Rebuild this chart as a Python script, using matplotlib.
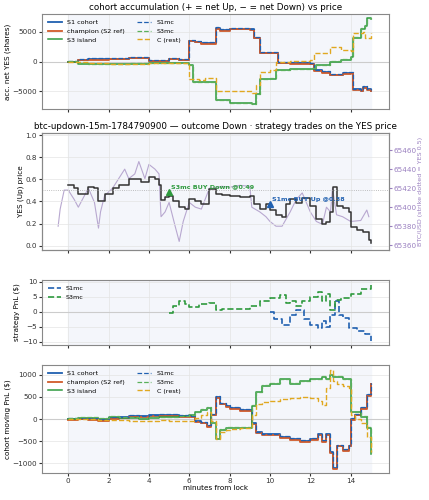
import matplotlib
matplotlib.use("Agg")
import matplotlib.pyplot as plt
import numpy as np

# ---- panel 1: accumulation
t_s1 = [0, 0.5, 1, 2, 3, 4, 4.3, 5, 5.5, 6.0, 6.3, 6.6, 7.3, 7.5, 8.0, 9.0, 9.2, 9.5, 10.3, 10.4, 11, 12, 12.2, 12.6, 13.0, 13.6, 14.0, 14.1, 14.5, 14.6, 14.8, 15]
v_s1 = [0, 300, 400, 500, 600, 150, 100, 450, 250, 3500, 3300, 3100, 5600, 5300, 5500, 5400, 4000, 1500, 1500, -200, -300, -400, -1500, -1800, -2200, -2000, -1900, -4700, -4900, -4300, -4700, -4900]
t_s3 = [0, 0.5, 1, 2, 3, 4, 5, 6.0, 6.2, 7.3, 8.0, 9.1, 9.3, 9.5, 10.0, 10.3, 11, 12, 12.3, 13, 13.5, 14, 14.1, 14.5, 14.7, 14.8, 15]
v_s3 = [0, -400, -500, -450, -350, -250, -300, -600, -3500, -6500, -7000, -7200, -5500, -3000, -2900, -1500, -1300, -1200, -600, 0, 300, 700, 4000, 5500, 6000, 7300, 7100]
t_c = [0, 1, 2, 3, 4, 5, 6.0, 6.5, 6.8, 7.3, 9.1, 9.3, 9.5, 10.0, 10.3, 11, 12, 12.2, 13, 13.5, 14, 14.1, 14.6, 14.7, 15]
v_c = [0, -300, -400, -500, -300, -200, -3000, -3100, -2800, -5000, -5300, -4000, -1800, -1500, 0, 100, 200, 1500, 2500, 2000, 1800, 4800, 5000, 4000, 4800]

# ---- panel 2: YES price and BTC
t_yes = [0, 0.3, 0.5, 0.8, 1.0, 1.3, 1.5, 1.8, 2.2, 2.5, 3.0, 3.3, 3.6, 4.0, 4.3, 4.5, 4.6, 4.8, 5.0, 5.2, 5.5, 5.8, 6.0, 6.3, 6.6, 7.0, 7.3, 7.6, 8.0, 8.5, 9.0, 9.2, 9.5, 9.8, 10.0, 10.3, 10.6, 10.8, 11.0, 11.3, 11.6, 12.0, 12.3, 12.6, 12.8, 13.0, 13.1, 13.3, 13.6, 13.9, 14.0, 14.3, 14.6, 14.9, 15.0]
v_yes = [0.55, 0.52, 0.47, 0.47, 0.53, 0.52, 0.40, 0.47, 0.52, 0.55, 0.60, 0.60, 0.58, 0.62, 0.60, 0.55, 0.41, 0.44, 0.45, 0.40, 0.35, 0.33, 0.42, 0.40, 0.38, 0.51, 0.47, 0.46, 0.45, 0.44, 0.45, 0.38, 0.33, 0.38, 0.32, 0.28, 0.26, 0.38, 0.42, 0.39, 0.43, 0.36, 0.24, 0.20, 0.21, 0.30, 0.53, 0.36, 0.34, 0.30, 0.17, 0.14, 0.12, 0.05, 0.02]
t_btc = [-0.5, -0.4, -0.2, 0, 0.3, 0.5, 0.8, 1.0, 1.3, 1.5, 1.6, 1.8, 2.2, 2.5, 2.8, 3.0, 3.3, 3.5, 3.8, 4.0, 4.3, 4.5, 4.6, 4.8, 5.0, 5.3, 5.5, 5.7, 6.0, 6.3, 6.6, 7.0, 7.3, 7.6, 8.0, 8.5, 9.0, 9.1, 9.5, 9.8, 10.0, 10.3, 10.6, 11.0, 11.3, 11.6, 12.0, 12.3, 12.6, 12.8, 13.0, 13.1, 13.3, 13.6, 14.0, 14.5, 14.8, 14.9]
v_btc = [65380, 65398, 65418, 65418, 65408, 65400, 65412, 65420, 65405, 65378, 65395, 65412, 65420, 65430, 65440, 65430, 65435, 65448, 65430, 65445, 65440, 65435, 65390, 65395, 65405, 65380, 65364, 65385, 65405, 65400, 65398, 65420, 65420, 65422, 65421, 65423, 65422, 65400, 65395, 65390, 65385, 65380, 65380, 65395, 65408, 65415, 65395, 65385, 65382, 65400, 65395, 65420, 65392, 65390, 65385, 65386, 65397, 65390]

# ---- panel 3: strategy PnL
t_s1mc = [10.0, 10.2, 10.6, 11.0, 11.3, 11.7, 12.0, 12.4, 12.6, 12.8, 13.0, 13.2, 13.4, 13.6, 13.9, 14.3, 14.7, 15.0]
v_s1mc = [0.0, -2.5, -4.5, -1.0, 0.5, -2.5, -4.5, -5.5, -3.0, -5.0, -1.0, 3.5, -1.0, -2.0, -5.5, -6.5, -7.5, -9.8]
t_s3mc = [5.0, 5.2, 5.5, 5.8, 6.0, 6.5, 7.0, 7.3, 7.6, 8.5, 9.0, 9.5, 10.0, 10.5, 10.8, 11.0, 11.3, 11.6, 12.0, 12.4, 12.6, 12.8, 13.0, 13.2, 13.5, 14.0, 14.5, 15.0]
v_s3mc = [-0.5, 2.0, 3.5, 2.5, 1.5, 2.5, 3.0, 0.5, 1.0, 1.0, 2.0, 3.5, 4.5, 5.5, 3.0, 3.5, 2.0, 3.5, 5.0, 6.5, 3.5, 6.0, 0.5, 4.0, 4.5, 6.0, 7.5, 9.0]

# ---- panel 4: cohort moving PnL
t_p = [0, 0.5, 1, 1.5, 2, 2.5, 3, 3.5, 4, 4.5, 5, 5.5, 6, 6.3, 6.6, 6.9, 7.1, 7.3, 7.5, 7.8, 8.0, 8.5, 9.0, 9.1, 9.3, 9.6, 10.0, 10.5, 11.0, 11.5, 12.0, 12.4, 12.6, 12.8, 13.0, 13.1, 13.3, 13.6, 13.9, 14.0, 14.2, 14.5, 14.8, 15.0]
p_s1 = [0, 10, 5, -20, 20, 40, 70, 60, 80, 90, 90, 70, 60, -50, -80, -150, 100, 500, 350, 300, 250, 200, 200, -100, -300, -350, -350, -400, -450, -500, -450, -350, -500, -350, -750, -1100, -600, -700, -600, 0, 100, 250, 550, 800]
p_s3 = [0, 20, 30, 10, 50, 30, 20, 10, 20, 40, 40, 60, 80, 150, 200, 250, -100, -450, -250, -200, -200, -200, -200, 300, 600, 750, 800, 900, 800, 850, 900, 900, 950, 900, 1000, 950, 950, 900, 900, 150, 150, 50, -200, -800]
p_c = [0, 10, 0, -30, -20, -30, -40, -40, -40, -30, -50, -40, -50, 20, 100, 150, -50, -450, -300, -250, -220, -200, -200, 100, 350, 380, 400, 450, 480, 500, 480, 400, 320, 700, 1100, 850, 800, 750, 700, 100, 0, -100, -400, -750]

blue, orange, green, gold = "#2060b0", "#d05a2a", "#2e9a3e", "#e0a820"
bg = "#f4f6fb"
fs = 5.2
plt.rcParams.update({"font.size": fs, "axes.titlesize": 6.3, "xtick.labelsize": fs,
                     "ytick.labelsize": fs, "axes.labelsize": fs, "legend.fontsize": 4.6})

fig = plt.figure(figsize=(4.29, 5.0), dpi=100)
L, W = 42/429, 347/429
ax1 = fig.add_axes([L, 1-109/500, W, 95/500])
ax2 = fig.add_axes([L, 1-250/500, W, 117/500], sharex=ax1)
ax3 = fig.add_axes([L, 1-345/500, W, 65/500], sharex=ax1)
ax4 = fig.add_axes([L, 1-473/500, W, 108/500], sharex=ax1)
axb = ax2.twinx()

for ax in (ax1, axb, ax3, ax4):
    ax.axvspan(0, 15, color=bg, zorder=0)
for ax in (ax1, ax2, ax3, ax4):
    ax.grid(True, color="#e4e4e4", lw=0.5)
    for s in ax.spines.values():
        s.set_color("#888888")
    ax.tick_params(length=2, pad=1.5, colors="#333333")
ax1.set_xlim(-1.3, 15.9)

def st(ax, x, y, **kw):
    ax.plot(x, y, drawstyle="steps-post", **kw)

# panel 1
ax1.axhline(0, color="#cccccc", lw=0.8)
st(ax1, t_s1, v_s1, color=blue, lw=1.3, label="S1 cohort")
st(ax1, t_s1, np.array(v_s1) - 80, color=orange, lw=1.3, label="champion (S2 ref)")
st(ax1, t_s3, v_s3, color=green, lw=1.1, label="S3 island")
st(ax1, t_s1, np.array(v_s1) + 150, color=blue, lw=0.9, ls="--", label="S1mc")
st(ax1, t_s3, np.array(v_s3) + 80, color="#5ab05a", lw=0.9, ls="--", label="S3mc")
st(ax1, t_c, v_c, color=gold, lw=1.0, ls="--", label="C (rest)")
ax1.set_ylim(-8000, 8000)
ax1.set_yticks([-5000, 0, 5000])
ax1.set_ylabel("acc. net YES (shares)", labelpad=1)
ax1.set_title("cohort accumulation (+ = net Up, − = net Down) vs price", pad=3)
ax1.legend(ncol=2, loc="upper left", frameon=False, handlelength=2.2, columnspacing=2)
plt.setp(ax1.get_xticklabels(), visible=False)

# panel 2
axb.plot(t_btc, v_btc, color="#b8a8d0", lw=0.8)
axb.set_ylim(65355, 65478)
axb.set_yticks([65360, 65380, 65400, 65420, 65440, 65460])
axb.tick_params(colors="#9a80c0", length=2, pad=1.5, labelsize=fs)
axb.set_ylabel("BTC/USD (strike dotted = YES 0.5)", color="#9a80c0", fontsize=4.6, labelpad=1)
for s in axb.spines.values():
    s.set_color("#888888")
ax2.set_zorder(axb.get_zorder() + 1)
ax2.patch.set_visible(False)
st(ax2, t_yes, v_yes, color="#333333", lw=1.1)
ax2.axhline(0.5, color="#aaaaaa", lw=0.6, ls=":")
ax2.plot([5], [0.49], marker="^", color=green, ms=5)
ax2.text(5.1, 0.52, "S3mc BUY Down @0.49", color=green, fontsize=4.6, fontweight="bold")
ax2.plot([10], [0.38], marker="^", color=blue, ms=5)
ax2.text(10.1, 0.40, "S1mc BUY Up @0.38", color=blue, fontsize=4.6, fontweight="bold")
ax2.set_ylim(-0.04, 1.02)
ax2.set_yticks([0, 0.2, 0.4, 0.6, 0.8, 1.0])
ax2.set_ylabel("YES (Up) price", labelpad=1)
ax2.set_title("btc-updown-15m-1784790900 — outcome Down · strategy trades on the YES price", pad=3)
plt.setp(ax2.get_xticklabels(), visible=False)

# panel 3
ax3.axhline(0, color="#cccccc", lw=0.8)
st(ax3, t_s1mc, v_s1mc, color=blue, lw=1.2, ls="--", label="S1mc")
st(ax3, t_s3mc, v_s3mc, color=green, lw=1.2, ls="--", label="S3mc")
ax3.set_ylim(-11, 10.5)
ax3.set_yticks([-10, -5, 0, 5, 10])
ax3.set_ylabel("strategy PnL ($)", labelpad=1)
ax3.legend(loc="upper left", frameon=False)
plt.setp(ax3.get_xticklabels(), visible=False)

# panel 4
ax4.axhline(0, color="#cccccc", lw=0.8)
st(ax4, t_p, p_s1, color=blue, lw=1.3, label="S1 cohort")
st(ax4, t_p, np.array(p_s1) - 20, color=orange, lw=1.3, label="champion (S2 ref)")
st(ax4, t_p, p_s3, color=green, lw=1.1, label="S3 island")
st(ax4, t_p, np.array(p_s1) + 15, color=blue, lw=0.9, ls="--", label="S1mc")
st(ax4, t_p, np.array(p_s3) + 15, color="#5ab05a", lw=0.9, ls="--", label="S3mc")
st(ax4, t_p, p_c, color=gold, lw=1.0, ls="--", label="C (rest)")
ax4.set_ylim(-1220, 1220)
ax4.set_yticks([-1000, -500, 0, 500, 1000])
ax4.set_ylabel("cohort moving PnL ($)", labelpad=1)
ax4.set_xlabel("minutes from lock", labelpad=1)
ax4.set_xticks([0, 2, 4, 6, 8, 10, 12, 14])
ax4.legend(ncol=2, loc="upper left", frameon=False, handlelength=2.2, columnspacing=2)

fig.savefig("out.png", dpi=100)
